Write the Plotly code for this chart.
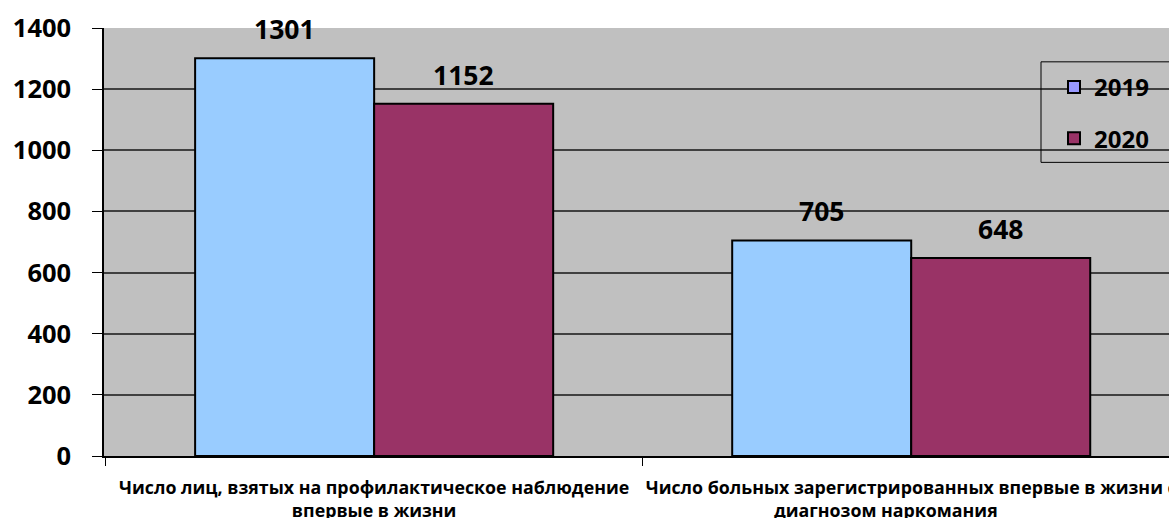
import plotly.graph_objects as go

categories = [
    "Число лиц, взятых на профилактическое наблюдение<br>впервые в жизни",
    "Число больных зарегистрированных впервые в жизни с<br>диагнозом наркомания" + "\u00a0" * 11,
]
years = ["2019", "2020"]
values_2019 = [1301, 705]
values_2020 = [1152, 648]
bar_colors = ["#99CCFF", "#993366"]
legend_colors = ["#9999FF", "#993366"]
y_ticks = [0, 200, 400, 600, 800, 1000, 1200, 1400]

FONT = "Open Sans"
bargap = 1 / 3
series = [values_2019, values_2020]

fig = go.Figure()
for j, (yr, vals) in enumerate(zip(years, series)):
    fig.add_trace(go.Bar(
        x=categories, y=vals, name=yr,
        marker=dict(color=bar_colors[j], line=dict(color="black", width=2)),
        offsetgroup=yr, showlegend=False,
    ))
# legend entries (legend icon colours differ from bars in the source chart)
for j, yr in enumerate(years):
    fig.add_trace(go.Bar(
        x=[None], y=[None], name=yr,
        marker=dict(color=legend_colors[j], line=dict(color="black", width=2)),
        offsetgroup=yr, legendgroup=yr,
    ))

# value labels above bars
bw = (1 - bargap) / len(series)
for j, vals in enumerate(series):
    for i, v in enumerate(vals):
        fig.add_annotation(
            x=i + (j - (len(series) - 1) / 2) * bw, y=v, xref="x", yref="y",
            text=str(v), showarrow=False, yanchor="bottom", yshift=9,
            font=dict(family=FONT, size=26.5, color="black", weight="bold"),
        )

# legend frame (extends beyond the right edge, as in the source)
fig.add_shape(type="rect", xref="paper", yref="paper",
              x0=(1041 - 104) / 1065, x1=1.05, y0=(458 - 163) / 430, y1=(458 - 62) / 430,
              line=dict(color="black", width=1), fillcolor="rgba(0,0,0,0)", layer="above")

fig.update_layout(
    width=1169, height=518,
    margin=dict(l=104, r=0, t=28, b=62),
    paper_bgcolor="white", plot_bgcolor="#C0C0C0",
    barmode="group", bargap=bargap, bargroupgap=0,
    font=dict(family=FONT, color="black", weight="bold"),
    legend=dict(
        x=(1054 - 104) / 1065, y=(458 - 65) / 430, xanchor="left", yanchor="top",
        bgcolor="rgba(0,0,0,0)", borderwidth=0,
        font=dict(family=FONT, size=24, color="black", weight="bold"),
        traceorder="grouped", tracegroupgap=17,
    ),
)
fig.update_xaxes(
    type="category",
    range=[-0.503, 1.480],
    showline=True, linecolor="black", linewidth=1.5,
    ticks="outside", tickson="boundaries", ticklen=8, tickcolor="black",
    showgrid=False, zeroline=False, ticklabeloverflow="allow",
    tickfont=dict(family=FONT, size=17.8, color="black", weight="bold"),
    ticklabelstandoff=15, automargin=False,
)
fig.update_yaxes(
    range=[0, 1400], tickmode="array", tickvals=y_ticks,
    showline=True, linecolor="black", linewidth=1.5,
    ticks="outside", ticklen=10, tickcolor="black",
    showgrid=True, gridcolor="#404040", gridwidth=1.5, zeroline=False,
    tickfont=dict(family=FONT, size=25.5, color="black", weight="bold"),
    ticklabelstandoff=16, automargin=False,
)
fig.write_html("out.html", config={"displayModeBar": False},
               post_script="document.body.style.margin='0';document.body.style.overflow='hidden';")
